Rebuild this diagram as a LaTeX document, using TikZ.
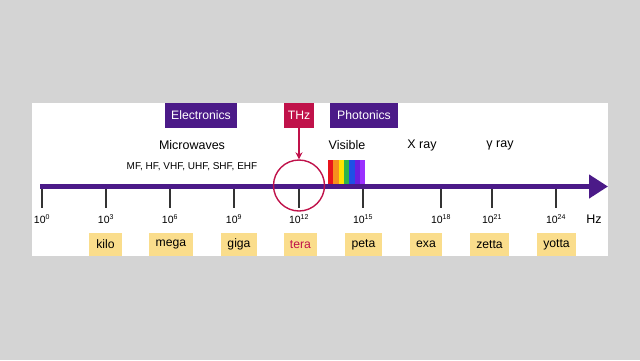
\documentclass[tikz,border=0pt]{standalone}
\usepackage{fontspec}
\setmainfont{Liberation Sans}
\usetikzlibrary{arrows.meta}
\definecolor{bggray}{HTML}{D4D4D4}
\definecolor{epurple}{HTML}{4B1A88}
\definecolor{thzred}{HTML}{C0124A}
\definecolor{pyellow}{HTML}{FADD8C}
\definecolor{tickgray}{HTML}{333333}
\tikzset{
  hdrbox/.style={fill=#1, text=white, inner sep=0pt, minimum height=25pt, font=\fontsize{12.2}{13}\selectfont},
  prefbox/.style={fill=pyellow, inner sep=0pt, minimum height=23pt, font=\fontsize{12.2}{13}\selectfont},
  band/.style={font=\fontsize{12.5}{13}\selectfont},
  ticklbl/.style={font=\fontsize{10.5}{11}\selectfont, inner sep=0pt},
  tickline/.style={draw=tickgray, line width=1.1pt},
}
\newcommand{\tp}[1]{10\textsuperscript{\fontsize{7}{7}\selectfont #1}}
\begin{document}
\begin{tikzpicture}[x=1pt,y=-1pt]
\useasboundingbox (0,0) rectangle (640,360);
\fill[bggray] (0,0) rectangle (640,360);
\fill[white] (32,103) rectangle (608,256);

% header boxes
\node[hdrbox=epurple, minimum width=72pt] (elec) at (201,115.5) {Electronics};
\node[hdrbox=thzred, minimum width=30pt] (thz) at (299,115.5) {THz};
\node[hdrbox=epurple, minimum width=68pt] (phot) at (364,115.5) {Photonics};

% band labels
\node[band] (micro) at (192,145) {Microwaves};
\node[font=\fontsize{10}{11}\selectfont] (mf) at (192,167) {MF, HF, VHF, UHF, SHF, EHF};
\node[band] (vis) at (347,145) {Visible};
\node[band] (xray) at (422,145) {X ray};
\node[band] (gray) at (500,145) {γ ray};

% rainbow
\foreach \c [count=\i from 0] in {E8141C,F7901E,FFE400,2DB34A,1E50E6,6A1EE0,9B30FF}{
  \definecolor{rb}{HTML}{\c}
  \fill[rb] (328+\i*5.3,160) rectangle (328+\i*5.3+5.4,185);
}

% ticks
\foreach \x/\e/\n in {42/0/a,106/3/b,170/6/c,234/9/d,299/12/e,363/15/f,441/18/g,492/21/h,556/24/i}{
  \coordinate (t\n) at (\x,188);
  \coordinate (b\n) at (\x,208);
  \draw[tickline] (t\n) -- (b\n);
  \node[ticklbl] (l\n) at (\x,219) {\tp{\e}};
}
\node[font=\fontsize{12.5}{13}\selectfont] (hz) at (594,219) {Hz};

% axis
\coordinate (axs) at (40,186.5);
\coordinate (axe) at (608,186.5);
\draw[epurple, line width=4.5pt, -{Triangle[length=19pt,width=23pt]}] (axs) -- (axe);

% THz marker
\node[circle, draw=thzred, line width=1.4pt, minimum size=51pt, inner sep=0pt] (circ) at (299,185.5) {};
\draw[thzred, line width=1.3pt, -{Stealth[length=7pt,width=7pt]}] (thz.south) -- (circ.north);

% prefix boxes
\node[prefbox, minimum width=33pt] (kilo) at (105.5,244.5) {kilo};
\node[prefbox, minimum width=44pt] (mega) at (171,244.5) {mega};
\node[prefbox, minimum width=36pt] (giga) at (239,244.5) {giga};
\node[prefbox, minimum width=33pt, text=thzred] (tera) at (300.5,244.5) {tera};
\node[prefbox, minimum width=37pt] (peta) at (363.5,244.5) {peta};
\node[prefbox, minimum width=32pt] (exa) at (426,244.5) {exa};
\node[prefbox, minimum width=39pt] (zetta) at (489.5,244.5) {zetta};
\node[prefbox, minimum width=39pt] (yotta) at (556.5,244.5) {yotta};
\end{tikzpicture}
\end{document}
